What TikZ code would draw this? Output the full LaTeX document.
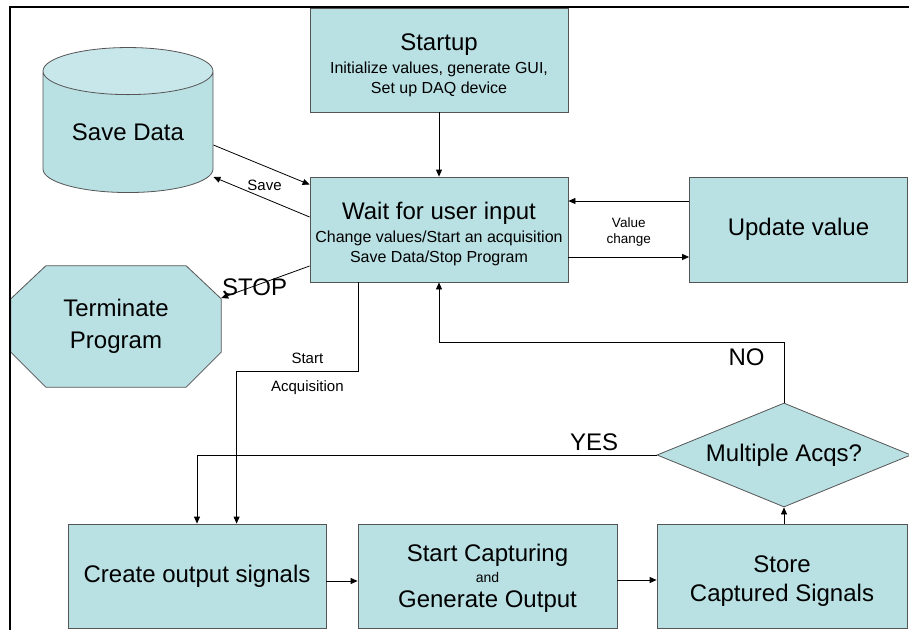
\documentclass[tikz,border=0pt]{standalone}
\usepackage{fontspec}
\setmainfont{Liberation Sans}
\usepackage{tikz}
\usetikzlibrary{positioning, calc}
\usetikzlibrary{shapes.misc, shapes.geometric, arrows.meta}
\usetikzlibrary{backgrounds}

\definecolor{boxfill}{RGB}{185,224,227}
\definecolor{boxtop}{RGB}{200,231,234}
\definecolor{boxline}{RGB}{85,85,85}

\newcommand{\txtbig}{\fontsize{24}{29}\selectfont}
\newcommand{\txtsmall}{\fontsize{16}{20}\selectfont}
\newcommand{\txtlbl}{\fontsize{15}{18}\selectfont}
\newcommand{\padtop}[1]{\rule{0pt}{#1}}

\tikzset{
    block/.style={rectangle, draw=boxline, fill=boxfill, line width=0.8pt, inner sep=0pt, align=center, font=\txtsmall},
    flow/.style={line width=0.8pt, -{Triangle[length=7pt,width=6pt]}},
    lbl/.style={inner sep=1pt, font=\txtlbl}
}

\begin{document}
\begin{tikzpicture}[x=1pt, y=-1pt]
                    \useasboundingbox (0,0) rectangle (909,630);
                    \draw[line width=2.3pt] (10,630) -- (10,7) -- (909,7);

                    \node[block, minimum width=258pt, minimum height=104pt] (startup) at (439,60) {{\txtbig\padtop{28pt}Startup}\\[3pt]Initialize values, generate GUI,\\Set up DAQ device};
                    \node[block, minimum width=258pt, minimum height=105pt] (wait) at (439,229.5) {{\txtbig\padtop{26pt}Wait for user input}\\[3pt]Change values/Start an acquisition\\Save Data/Stop Program};
                    \node[block, minimum width=218pt, minimum height=105pt, font=\txtbig] (update) at (798.5,229.5) {Update value};
                    \node[cylinder, shape border rotate=90, draw=boxline, line width=0.8pt, cylinder uses custom fill, cylinder body fill=boxfill, cylinder end fill=boxtop, aspect=0.42, minimum height=145pt, minimum width=170pt, inner sep=0pt, font=\txtbig] (savedata) at (128,132) {Save Data};
                    \node[minimum width=210pt, minimum height=121pt, inner sep=0pt, align=center, font=\txtbig] (terminate) at (116,326.5) {Terminate\\[3pt]Program};
                    \begin{scope}[on background layer]
                        \draw[draw=boxline, fill=boxfill, line width=0.8pt] ($(terminate.north west)+(35,0)$) -- ($(terminate.north east)+(-35,0)$) -- ($(terminate.north east)+(0,33)$) -- ($(terminate.south east)+(0,-35)$) -- ($(terminate.south east)+(-35,0)$) -- ($(terminate.south west)+(35,0)$) -- ($(terminate.south west)+(0,-35)$) -- ($(terminate.north west)+(0,33)$) -- cycle;
                    \end{scope}
                    \node[diamond, draw=boxline, fill=boxfill, line width=0.8pt, aspect=2.44, minimum width=254pt, minimum height=104pt, inner sep=0pt, font=\txtbig] (acqs) at (784,455) {Multiple Acqs?};
                    \node[block, minimum width=258pt, minimum height=104pt, font=\txtbig] (create) at (197,576) {Create output signals};
                    \node[block, minimum width=259pt, minimum height=104pt] (capture) at (487.5,576) {{\txtbig\padtop{22pt}Start Capturing}\\[1pt]{\fontsize{14}{16}\selectfont and}\\[5pt]{\txtbig Generate Output}};
                    \node[block, minimum width=250pt, minimum height=104pt, font=\txtbig] (store) at (782,576) {\padtop{26pt}Store\\Captured Signals};

                    \draw[flow] (startup) -- (wait);
                    \draw[flow] ($(savedata.east)+(0,13)$) -- ($(wait.north west)+(0,8)$);
                    \draw[flow] ($(wait.west)+(0,-12.5)$) -- node[lbl, yshift=12pt, xshift=3pt] {Save} ($(savedata.east)+(0,45)$);
                    \draw[flow] ($(wait.west)+(0,36.5)$) -- node[pos=0.6, inner sep=0pt, font=\txtbig, xshift=-2pt, yshift=-2pt] {STOP} ($(terminate.east)+(0,-28.5)$);
                    \draw[flow] ($(update.west)+(0,-28.5)$) -- ($(wait.east)+(0,-28.5)$);
                    \draw[flow] ($(wait.east)+(0,27.5)$) -- ($(update.west)+(0,27.5)$);
                    \node[align=center, inner sep=0pt, yshift=-3pt, font=\fontsize{13.5}{16}\selectfont] (valchange) at ($(wait.east)!0.5!(update.west)$) {Value\\change};
                    \draw[flow] ($(wait.south west)+(49,0)$) -- ++(0,89) -| node[pos=0.21, lbl, above=6pt] {Start} node[pos=0.21, lbl, below=8pt] {Acquisition} ($(create.north west)+(169,0)$);
                    \draw[flow] (acqs.west) -| node[pos=0.068, above=4pt, font=\txtbig, inner sep=0pt] {YES} (create.north);
                    \draw[flow] (acqs.north) -- ++(0,-60) node[pos=0.75, left=19pt, inner sep=0pt, font=\txtbig] {NO} -| (wait.south);
                    \draw[flow] (create.east |- 0,581) -- (capture.west |- 0,581);
                    \draw[flow] (capture.east |- 0,580) -- (store.west |- 0,580);
                    \draw[flow] (acqs.south |- store.north) -- (acqs.south);
                \end{tikzpicture}
\end{document}
